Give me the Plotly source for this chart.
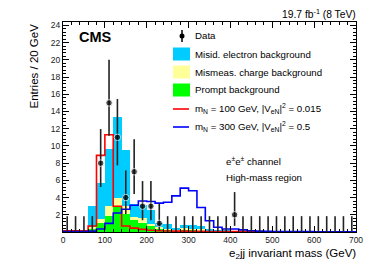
import plotly.graph_objects as go

# ---- data (20 GeV bins, 0-700 GeV) ----
bin_low = [0, 20, 40, 60, 80, 100, 120, 140, 160, 180, 200, 220, 240, 260, 280, 300, 320,
           340, 360, 380, 400, 420, 440, 460, 480, 500, 520, 540, 560, 580, 600, 620, 640, 660, 680]
bin_width = 20

data_counts = [0, 0, 0, 0, 8, 15, 11, 4, 7, 3, 3, 1, 0, 0, 0, 0, 0,
               0, 0, 0, 2, 0, 0, 0, 0, 0, 0, 0, 0, 0, 0, 0, 0, 0, 0]
data_err_lo = [0, 0, 0, 0, 2.77, 3.82, 3.26, 1.91, 2.58, 1.63, 1.63, 0.83, 0, 0, 0, 0, 0,
               0, 0, 0, 1.29, 0, 0, 0, 0, 0, 0, 0, 0, 0, 0, 0, 0, 0, 0]
data_err_hi = [1.84, 1.84, 1.84, 1.84, 3.96, 5.00, 4.45, 3.16, 3.77, 2.92, 2.92, 2.30, 1.84, 1.84, 1.84, 1.84, 1.84,
               1.84, 1.84, 1.84, 2.64, 1.84, 1.84, 1.84, 1.84, 1.84, 1.84, 1.84, 1.84, 1.84, 1.84, 1.84, 1.84, 1.84, 1.84]

prompt_bkg = [0.03, 0.03, 0.08, 0.35, 1.0, 1.9, 2.85, 2.1, 1.4, 1.1, 0.65, 0.4, 0.3, 0.2, 0.3, 0.25, 0.2,
              0.1, 0.05, 0.05, 0.04, 0.03, 0.03, 0.02, 0.02, 0.02, 0.02, 0.02, 0.01, 0.01, 0.01, 0.01, 0.01, 0.01, 0.01]
mismeas_bkg = [0, 0, 0.02, 0.2, 0.5, 1.15, 1.15, 0.95, 0.4, 0.5, 0.3, 0.2, 0.1, 0.1, 0.15, 0.15, 0.1,
               0.05, 0.03, 0.02, 0.02, 0.02, 0.01, 0.01, 0.01, 0.01, 0.01, 0.01, 0.01, 0.01, 0.01, 0.01, 0.01, 0.01, 0.01]
misid_bkg = [0, 0, 0, 2.5, 4.25, 6.55, 9.4, 6.45, 1.4, 1.5, 1.55, 0.5, 0.55, 0.1, 0.4, 0.45, 0.4,
             0.15, 0.1, 0.05, 0.05, 0.04, 0.03, 0.02, 0.02, 0.01, 0.01, 0.01, 0.01, 0.01, 0.01, 0.01, 0.01, 0.01, 0.01]

sig_m100 = [0.15, 0.15, 0.15, 0.7, 8.9, 11.3, 3.0, 0.7, 0.45, 0.3, 0.2, 0.15, 0.12, 0.1, 0.1, 0.08, 0.07,
            0.06, 0.05, 0.05, 0.04, 0.04, 0.03, 0.03, 0.03, 0.03, 0.03, 0.03, 0.03, 0.03, 0.03, 0.03, 0.03, 0.03, 0.03]
sig_m300 = [0.05, 0.05, 0.05, 0.1, 0.35, 1.0, 2.2, 2.65, 3.1, 3.6, 3.55, 3.35, 3.45, 4.2, 5.1, 4.8, 2.85,
            1.3, 0.55, 0.35, 0.35, 0.25, 0.15, 0.1, 0.08, 0.06, 0.05, 0.05, 0.04, 0.04, 0.03, 0.03, 0.03, 0.03, 0.03]

x_ticks = [0, 100, 200, 300, 400, 500, 600, 700]
y_ticks = [2, 4, 6, 8, 10, 12, 14, 16, 18, 20, 22, 24]

# ---- styles ----
C_MISID = "#00ccff"
C_MISMEAS = "#ffff99"
C_PROMPT = "#00ff00"
C_RED = "#ff0000"
C_BLUE = "#0000ff"
FONT = "Liberation Sans, Arial, sans-serif"

W, H = 374, 274
OFF = 8  # page body margin offset of the rendered figure
# plot area in screen pixels
SX0, SX1, SY0, SY1 = 63, 356, 22, 232
ML, MT = SX0 - OFF, SY0 - OFF
MR, MB = W - (SX1 - OFF), H - (SY1 - OFF)
PW, PH = SX1 - SX0, SY1 - SY0


def px(x):
    return (x - SX0) / PW


def py(y):
    return (SY1 - y) / PH


centers = [b + bin_width / 2 for b in bin_low]
edges = bin_low + [bin_low[-1] + bin_width]

fig = go.Figure()
for vals, col, name in [(prompt_bkg, C_PROMPT, "Prompt background"),
                        (mismeas_bkg, C_MISMEAS, "Mismeas. charge background"),
                        (misid_bkg, C_MISID, "Misid. electron background")]:
    fig.add_trace(go.Bar(x=centers, y=vals, width=bin_width, marker=dict(color=col, line=dict(width=0)),
                         name=name, showlegend=False))

for vals, col, name in [(sig_m100, C_RED, "mN=100"), (sig_m300, C_BLUE, "mN=300")]:
    fig.add_trace(go.Scatter(x=edges, y=vals + [vals[-1]], mode="lines", line=dict(color=col, width=1.6, shape="hv"),
                             name=name, showlegend=False))

fig.add_trace(go.Scatter(
    x=centers, y=data_counts, mode="markers",
    marker=dict(color="black", size=[6.5 if v > 0 else 0 for v in data_counts]),
    error_y=dict(type="data", symmetric=False, array=data_err_hi, arrayminus=data_err_lo,
                 color="#222222", thickness=1.6, width=0),
    name="Data", showlegend=False))

fig.update_layout(
    width=W, height=H, margin=dict(l=ML, r=MR, t=MT, b=MB),
    plot_bgcolor="white", paper_bgcolor="white", barmode="stack", bargap=0,
    font=dict(family=FONT, color="black"),
    xaxis=dict(range=[0, 700], tickvals=x_ticks, ticks="inside", ticklen=6, tickcolor="black",
               showline=True, linecolor="black", linewidth=1, mirror="ticks", showgrid=False, zeroline=False,
               tickfont=dict(size=8.5, color="#222"),
               minor=dict(dtick=20, tick0=0, ticks="inside", ticklen=3, tickcolor="black", showgrid=False)),
    yaxis=dict(range=[0, 24.4], tickvals=y_ticks, ticks="inside", ticklen=6, tickcolor="black",
               showline=True, linecolor="black", linewidth=1, mirror="ticks", showgrid=False, zeroline=False,
               tickfont=dict(size=8.5, color="#222"),
               minor=dict(dtick=0.4, tick0=0, ticks="inside", ticklen=3, tickcolor="black", showgrid=False)),
)

ann = []
shapes = []


def text(x, y, s, size=10, xanchor="left", yanchor="middle", **kw):
    ann.append(dict(x=px(x), y=py(y), xref="paper", yref="paper", text=s, showarrow=False,
                    xanchor=xanchor, yanchor=yanchor, font=dict(size=size, family=FONT, color="black"), **kw))


text(77, 37, "<b>CMS</b>", size=14.5)
text(357, 21, "19.7 fb<sup>-1</sup> (8 TeV)", size=10.3, xanchor="right", yanchor="bottom", borderpad=0)
text(224, 161, "e<sup>±</sup>e<sup>±</sup> channel", size=9.7)
text(224, 177, "High-mass region", size=9.7)
text(358, 254, "e<sub>2</sub>jj invariant mass (GeV)", size=11.5, xanchor="right")
ann.append(dict(x=px(33), y=py(22), xref="paper", yref="paper", text="Entries / 20 GeV", showarrow=False,
                textangle=-90, xanchor="center", yanchor="top", font=dict(size=11.5, family=FONT, color="black")))

# legend (manual)
rows = [36, 54, 72, 90, 108, 126]
labels = ["Data", "Misid. electron background", "Mismeas. charge background", "Prompt background",
          "m<sub>N</sub> = 100 GeV, |V<sub>eN</sub>|<sup>2</sup> = 0.015",
          "m<sub>N</sub> = 300 GeV, |V<sub>eN</sub>|<sup>2</sup> = 0.5"]
for r, lab in zip(rows, labels):
    text(193, r, lab, size=9.7)

# data symbol
shapes.append(dict(type="line", xref="paper", yref="paper", x0=px(182), x1=px(182), y0=py(30), y1=py(42),
                   line=dict(color="black", width=1.5)))
shapes.append(dict(type="circle", xref="paper", yref="paper", x0=px(179.5), x1=px(184.5), y0=py(33.5), y1=py(38.5),
                   fillcolor="black", line=dict(color="black", width=0)))
for r, col in zip(rows[1:4], [C_MISID, C_MISMEAS, C_PROMPT]):
    shapes.append(dict(type="rect", xref="paper", yref="paper", x0=px(173), x1=px(190), y0=py(r - 6.5), y1=py(r + 6.5),
                       fillcolor=col, line=dict(width=0)))
for r, col in zip(rows[4:], [C_RED, C_BLUE]):
    shapes.append(dict(type="line", xref="paper", yref="paper", x0=px(173), x1=px(189), y0=py(r + 1), y1=py(r + 1),
                       line=dict(color=col, width=1.6)))

fig.update_layout(annotations=ann, shapes=shapes)
fig.write_html("out.html")
